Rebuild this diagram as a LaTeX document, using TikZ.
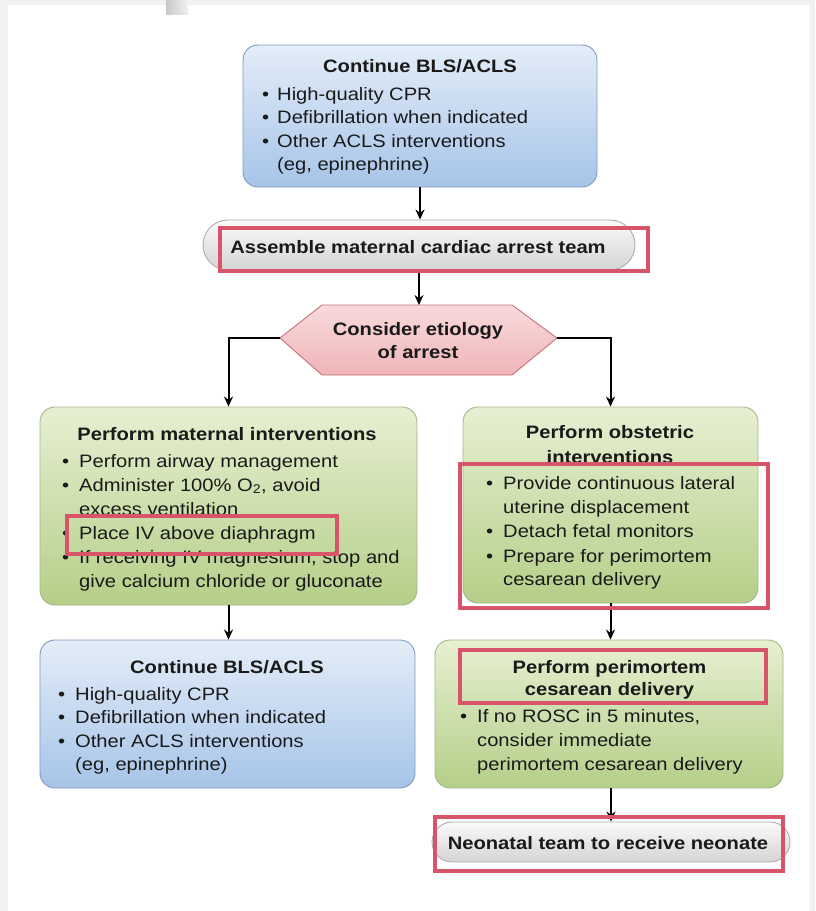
\documentclass[tikz,border=0pt]{standalone}
\usepackage{fontspec}
\setmainfont[FakeStretch=1.12]{Liberation Sans}
\usetikzlibrary{arrows.meta}
\definecolor{bgray}{HTML}{F1F1F1}
\definecolor{tabgray}{HTML}{C8C8C8}
\definecolor{bluetop}{HTML}{E4EDF8}
\definecolor{bluebot}{HTML}{A6C4E8}
\definecolor{blueline}{HTML}{7F9CC0}
\definecolor{greentop}{HTML}{E7EFD2}
\definecolor{greenbot}{HTML}{B4CF88}
\definecolor{greenline}{HTML}{A3B68A}
\definecolor{pinktop}{HTML}{F8DADB}
\definecolor{pinkbot}{HTML}{EFB5B8}
\definecolor{pinkline}{HTML}{C8707A}
\definecolor{pilltop}{HTML}{FAFAFA}
\definecolor{pillbot}{HTML}{D4D4D4}
\definecolor{pillline}{HTML}{ADADAD}
\definecolor{hlred}{HTML}{D8546A}
\definecolor{txt}{HTML}{1A1A1A}
\newcommand{\fs}{\fontsize{18}{23}\selectfont}
\begin{document}
\begin{tikzpicture}[x=1pt,y=-1pt,
  bluebox/.style={draw=blueline, line width=0.9pt, rounded corners=15pt, top color=bluetop, bottom color=bluebot, inner sep=0},
  greenbox/.style={draw=greenline, line width=0.9pt, rounded corners=15pt, top color=greentop, bottom color=greenbot, inner sep=0},
  pill/.style={draw=pillline, line width=0.9pt, top color=pilltop, bottom color=pillbot, inner sep=0},
  hl/.style={draw=hlred, line width=3.6pt, inner sep=0},
  tx/.style={anchor=base west, inner sep=0, font=\fs, text=txt},
  ttl/.style={anchor=base, inner sep=0, font=\fs\bfseries, text=txt},
  bul/.style={anchor=base west, inner sep=0, font=\fs, text=txt},
  arr/.style={line width=2pt, -{Stealth[length=10pt,width=9pt]}}]
% background
\fill[bgray] (0,0) rectangle (815,911);
\fill[white] (8,5) rectangle (810,911);
\shade[left color=tabgray, right color=bgray] (166,0) rectangle (188,14);
\useasboundingbox (0,0) rectangle (815,911);

% boxes
\node[bluebox, minimum width=354pt, minimum height=142pt] (A) at (420,116) {};
\node[pill, rounded corners=25pt, minimum width=432pt, minimum height=50pt] (P) at (419,245) {};
\coordinate (hL) at (280,338);
\coordinate (hTL) at (322,305);
\coordinate (hTR) at (512,305);
\coordinate (hR) at (557,338);
\coordinate (hBR) at (512,375);
\coordinate (hBL) at (322,375);
\coordinate (hT) at (420,305);
\shade[draw=pinkline, line width=0.9pt, top color=pinktop, bottom color=pinkbot]
  (hL) -- (hTL) -- (hTR) -- (hR) -- (hBR) -- (hBL) -- cycle;
\node[greenbox, minimum width=377pt, minimum height=198pt] (B) at (228.5,506) {};
\node[greenbox, minimum width=295pt, minimum height=196pt] (C) at (610.5,505) {};
\node[bluebox, minimum width=375pt, minimum height=148pt] (D) at (227.5,714) {};
\node[greenbox, minimum width=348pt, minimum height=148pt] (E) at (609,714) {};
\node[pill, rounded corners=20pt, minimum width=358pt, minimum height=40pt] (F) at (611,842) {};

% connectors
\draw[arr] (A.south) -- (A.south |- P.north);
\draw[arr] (P.south) -- (P.south |- hT);
\draw[arr] (hL) -| (B.north);
\draw[arr] (hR) -| (C.north);
\draw[arr] (B.south) -- (B.south |- D.north);
\draw[arr] (C.south) -- (C.south |- E.north);
\draw[arr] (E.south -| F.north) -- (F.north);

% texts: top box
\node[ttl] (a0) at (420,72) {Continue BLS/ACLS};
\node[bul] (ab1) at (262,100) {•};
\node[tx] (a1) at (277,100) {High-quality CPR};
\node[bul] (ab2) at (262,123) {•};
\node[tx] (a2) at (277,123) {Defibrillation when indicated};
\node[bul] (ab3) at (262,147) {•};
\node[tx] (a3) at (277,147) {Other ACLS interventions};
\node[tx] (a4) at (277,170) {(eg, epinephrine)};

% assemble
\node[ttl] (p0) at (418,253) {Assemble maternal cardiac arrest team};

% hexagon text
\node[ttl] (h0) at (418,335) {Consider etiology};
\node[ttl] (h1) at (418,358) {of arrest};

% left green box
\node[ttl] (b0) at (227,440) {Perform maternal interventions};
\node[bul] (bb1) at (62,467) {•};
\node[tx] (b1) at (79,467) {Perform airway management};
\node[bul] (bb2) at (62,491) {•};
\node[tx] (b2) at (79,491) {Administer 100\% O\textsubscript{2}, avoid};
\node[tx] (b3) at (79,515) {excess ventilation};
\node[bul] (bb4) at (62,539) {•};
\node[tx] (b4) at (79,539) {Place IV above diaphragm};
\node[bul] (bb5) at (62,563) {•};
\node[tx] (b5) at (79,563) {If receiving IV magnesium, stop and};
\node[tx] (b6) at (79,587) {give calcium chloride or gluconate};

% right green box
\node[ttl] (c0) at (610,438) {Perform obstetric};
\node[ttl] (c00) at (610,463) {interventions};
\node[bul] (cb1) at (486,489) {•};
\node[tx] (c1) at (503,489) {Provide continuous lateral};
\node[tx] (c2) at (503,513) {uterine displacement};
\node[bul] (cb3) at (486,537) {•};
\node[tx] (c3) at (503,537) {Detach fetal monitors};
\node[bul] (cb4) at (486,562) {•};
\node[tx] (c4) at (503,562) {Prepare for perimortem};
\node[tx] (c5) at (503,585) {cesarean delivery};

% left bottom blue
\node[ttl] (d0) at (227,673) {Continue BLS/ACLS};
\node[bul] (db1) at (58,700) {•};
\node[tx] (d1) at (75,700) {High-quality CPR};
\node[bul] (db2) at (58,723) {•};
\node[tx] (d2) at (75,723) {Defibrillation when indicated};
\node[bul] (db3) at (58,747) {•};
\node[tx] (d3) at (75,747) {Other ACLS interventions};
\node[tx] (d4) at (75,770) {(eg, epinephrine)};

% right bottom green
\node[ttl] (e0) at (609.5,673) {Perform perimortem};
\node[ttl] (e00) at (609.5,695) {cesarean delivery};
\node[bul] (eb1) at (460,722) {•};
\node[tx] (e1) at (477,722) {If no ROSC in 5 minutes,};
\node[tx] (e2) at (477,746) {consider immediate};
\node[tx] (e3) at (477,770) {perimortem cesarean delivery};

% neonatal
\node[ttl] (f0) at (608,849) {Neonatal team to receive neonate};

% highlights
\node[hl, minimum width=428pt, minimum height=43pt] (r1) at (434,249.5) {};
\node[hl, minimum width=270pt, minimum height=38pt] (r2) at (202,535) {};
\node[hl, minimum width=308pt, minimum height=144pt] (r3) at (614,536) {};
\node[hl, minimum width=306pt, minimum height=53pt] (r4) at (613,676.5) {};
\node[hl, minimum width=348pt, minimum height=54pt] (r5) at (609,844) {};
\end{tikzpicture}
\end{document}
